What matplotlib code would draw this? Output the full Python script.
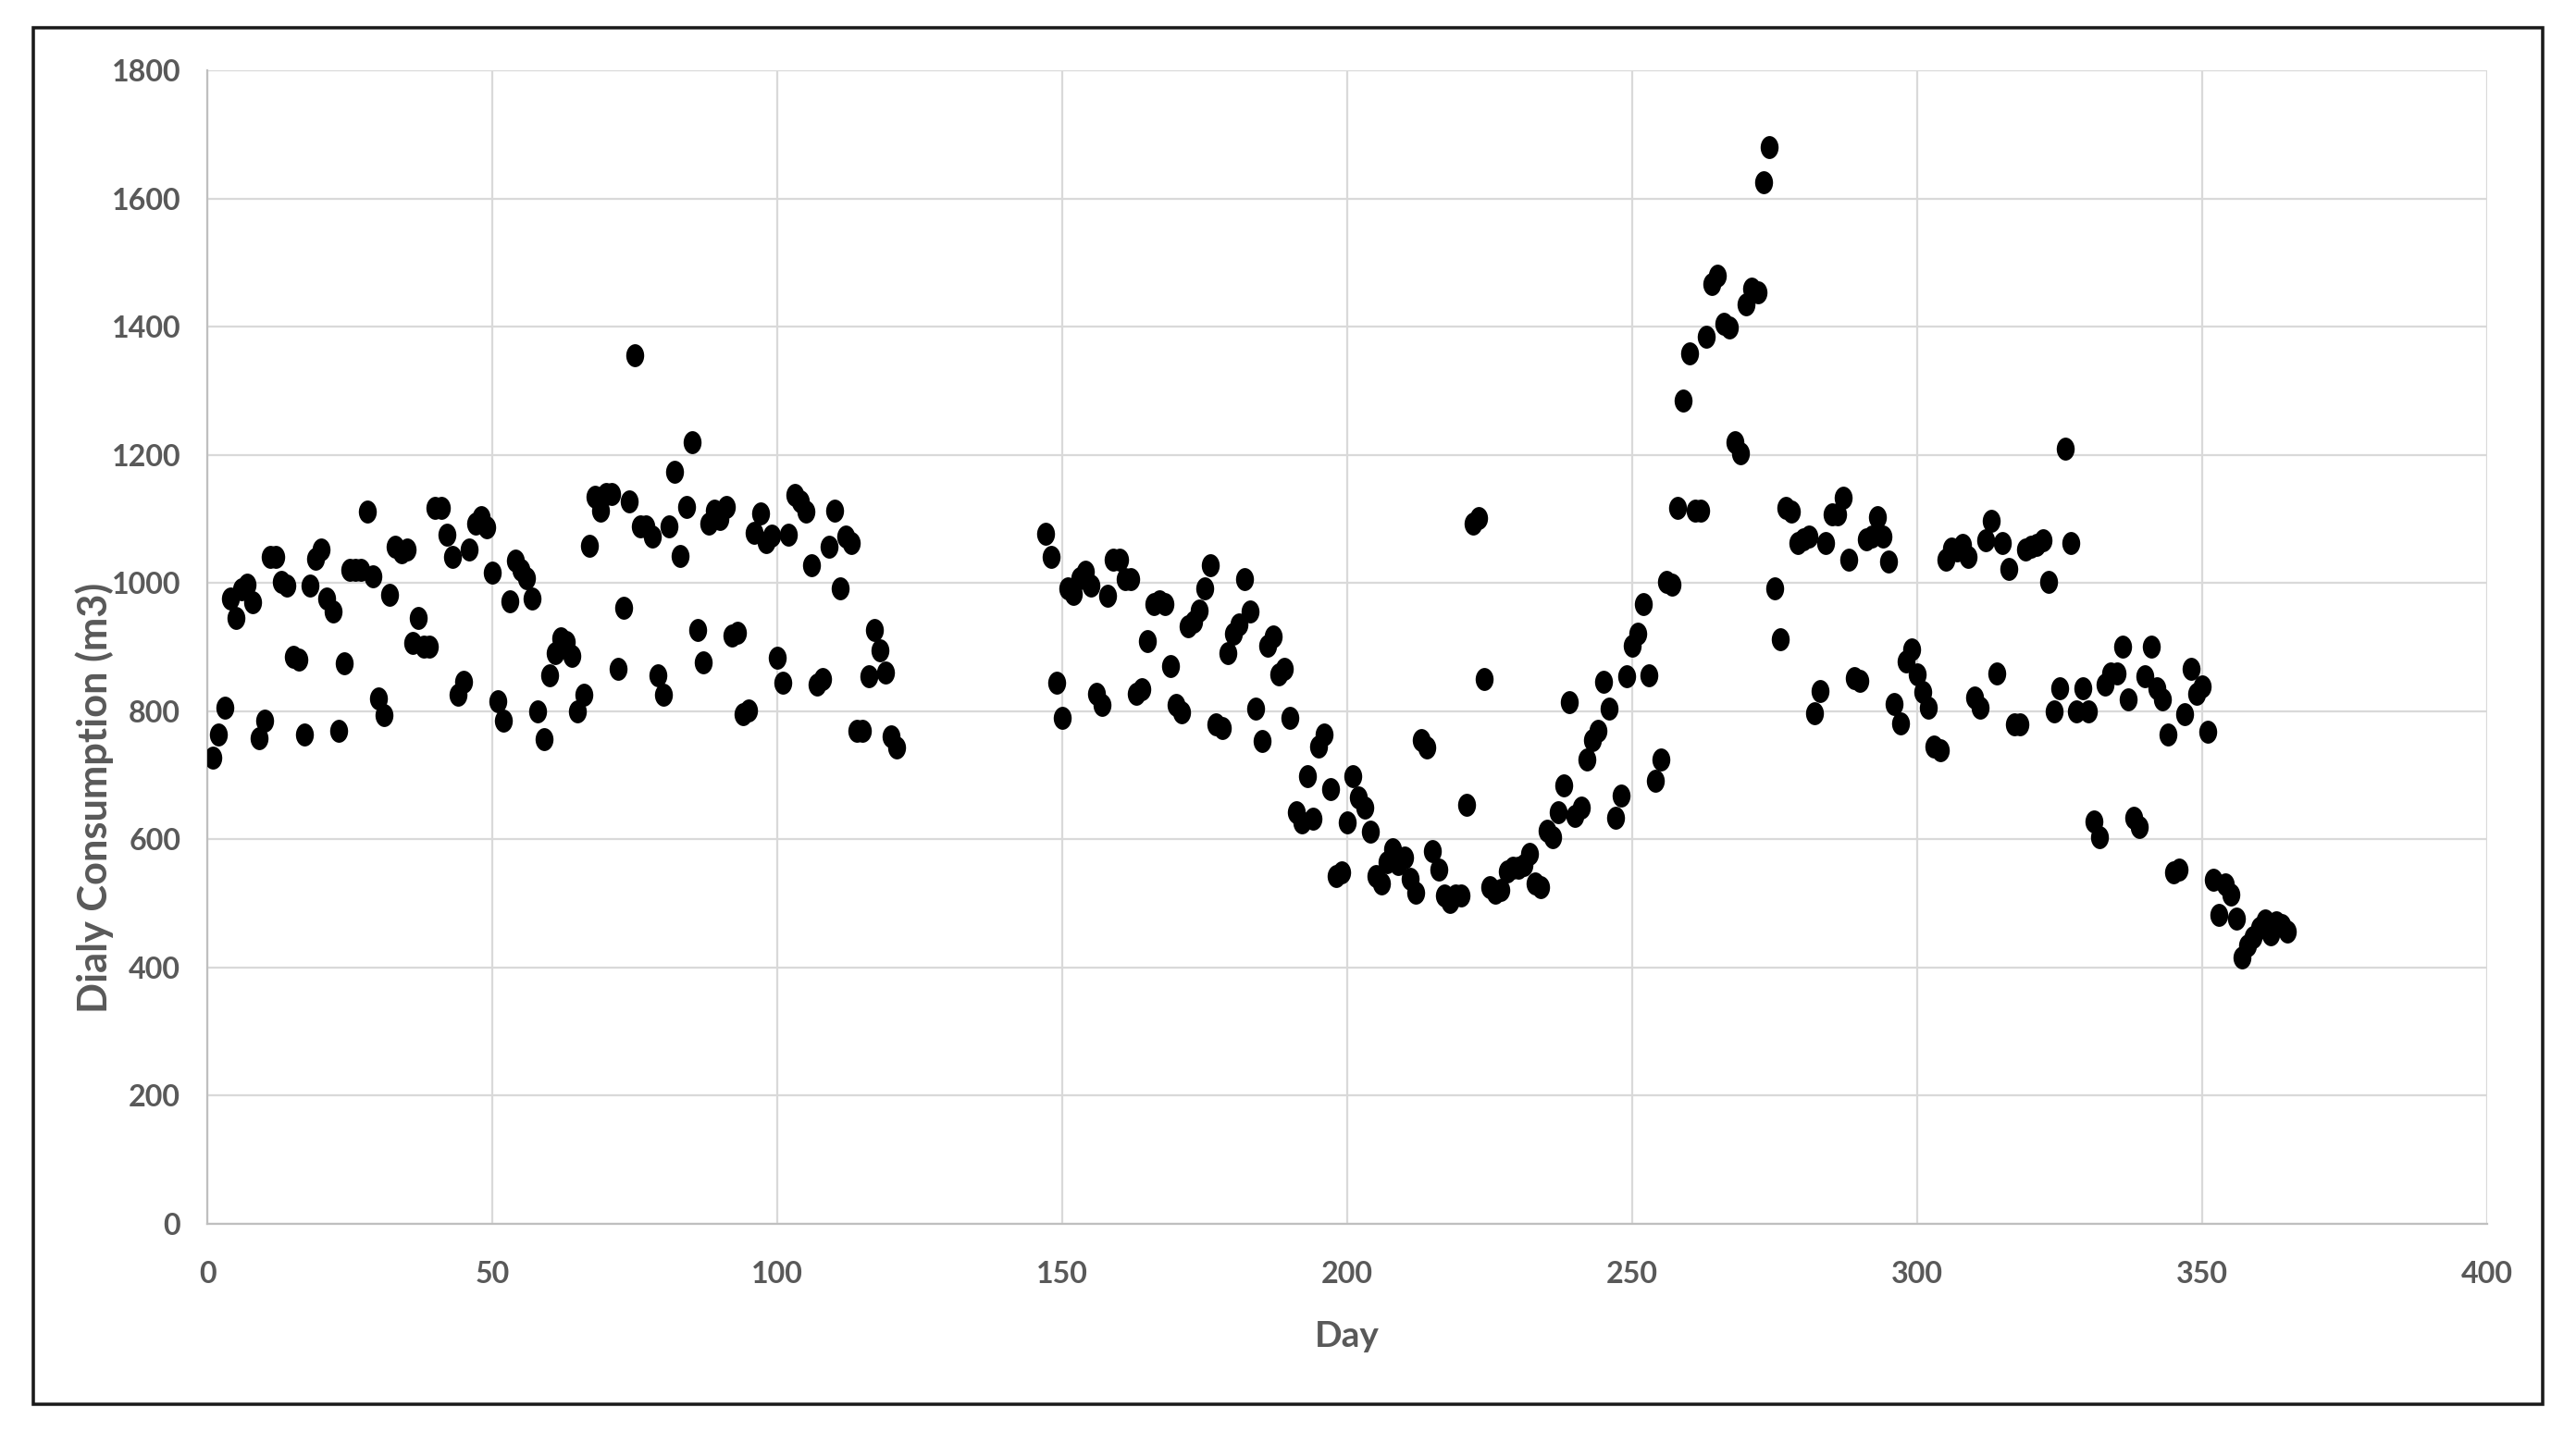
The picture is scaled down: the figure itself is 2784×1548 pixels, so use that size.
"""
Daily water consumption scatter (Excel-style chart).
"""
import numpy as np
import matplotlib
matplotlib.use("Agg")
import matplotlib.pyplot as plt
from matplotlib.path import Path
from matplotlib.transforms import Affine2D
from matplotlib.patches import Rectangle

# ---- data -----------------------------------------------------------
# first block: days 1-121
days_a = list(range(1, 122))
cons_a = [
    728, 764, 805, 976, 946, 990, 998, 970, 758, 785,
    1041, 1041, 1002, 996, 885, 880, 764, 996, 1038, 1052,
    976, 956, 769, 875, 1021, 1021, 1021, 1112, 1011, 820,
    794, 981, 1057, 1048, 1052, 906, 946, 901, 901, 1117,
    1117, 1076, 1041, 825, 846, 1052, 1093, 1103, 1087, 1016, 816,
    785, 971, 1035, 1020, 1008, 976, 800, 756, 856, 891,
    913, 908, 886, 800, 825, 1058, 1135, 1113, 1139, 1139,
    866, 962, 1128, 1355, 1088, 1088, 1072, 856, 825, 1088,
    1174, 1042, 1118, 1219, 926, 876, 1093, 1113, 1100, 1118,
    918, 923, 796, 801, 1078, 1108, 1064, 1074,
    884, 844, 1075, 1138, 1128, 1112, 1027, 842, 850, 1057,
    1113, 991, 1073, 1062, 769, 769, 855, 926, 895, 860,
    760, 743,
]

# second block: days 147-365
days_b = list(range(147, 366))
cons_b = [
    # 147-199
    1077, 1041, 845, 789, 991, 983, 1008, 1017, 996, 827,
    810, 980, 1036, 1036, 1006, 1006, 827, 834, 910, 967,
    971, 967, 870, 810, 798, 933, 940, 957, 991, 1027,
    779, 774, 890, 921, 935, 1006, 956, 804, 754, 902,
    916, 858, 866, 789, 642, 627, 698, 632, 745, 764,
    679, 543, 548,
    # 200-249
    627, 698, 666, 649, 612, 543, 531, 565, 584, 562,
    572, 538, 517, 755, 743, 582, 553, 512, 502, 512,
    512, 654, 1093, 1101, 850, 526, 517, 521, 550, 555,
    555, 560, 577, 531, 526, 613, 603, 642, 684, 814,
    637, 649, 724, 755, 769, 846, 804, 633, 668, 855,
    # 250-299
    902, 921, 967, 856, 691, 725, 1002, 998, 1117, 1284,
    1359, 1113, 1113, 1384, 1466, 1480, 1405, 1399, 1220, 1203,
    1435, 1460, 1454, 1626, 1680, 992, 912, 1117, 1112, 1063,
    1068, 1072, 797, 832, 1063, 1107, 1107, 1133, 1037, 851,
    847, 1068, 1072, 1103, 1072, 1033, 811, 781, 877, 896,
    # 300-351
    857, 830, 805, 745, 739, 1037, 1054, 1051, 1059, 1041,
    821, 805, 1067, 1097, 859, 1062, 1022, 780, 780, 1052,
    1057, 1060, 1067, 1001, 800, 835, 1209, 1062, 800, 835,
    800, 628, 603, 841, 859, 859, 900, 819, 634, 619,
    855, 900, 835, 819, 764, 548, 553, 795, 866, 827,
    839, 768,
    # 352-365
    537, 482, 529, 514, 476, 416, 435, 447, 462, 473,
    452, 471, 466, 456,
]

x_ticks = [0, 50, 100, 150, 200, 250, 300, 350, 400]
y_ticks = [0, 200, 400, 600, 800, 1000, 1200, 1400, 1600, 1800]

# ---- style ----------------------------------------------------------
TEXT = "#595959"
GRID = "#d9d9d9"
AXIS = "#bfbfbf"

plt.rcParams.update({
    "font.family": ["Lato", "DejaVu Sans"],
    "font.weight": "bold",
})

fig = plt.figure(figsize=(2784 / 160, 1548 / 160), dpi=160)
ax = fig.add_axes([0.0805, 0.1454, 0.8850, 0.8055])

# markers in the reference are slightly taller than wide
ellipse = Affine2D().scale(1.0, 1.28).transform_path(Path.unit_circle())

days = days_a + days_b
cons = cons_a + cons_b
ax.scatter(days, cons, marker=ellipse, s=125, color="black",
           linewidths=0, zorder=3)

ax.set_xlim(0, 400)
ax.set_ylim(0, 1800)
ax.set_xticks(x_ticks)
ax.set_yticks(y_ticks)
ax.set_xticklabels([str(t) for t in x_ticks])
ax.set_yticklabels([str(t) for t in y_ticks])
ax.tick_params(axis="both", length=0, labelsize=14.5, labelcolor=TEXT)
ax.tick_params(axis="x", pad=18)
ax.tick_params(axis="y", pad=13)

ax.grid(True, color=GRID, linewidth=1.0, zorder=0)
ax.set_axisbelow(True)
for side in ("top", "right"):
    ax.spines[side].set_visible(False)
for side in ("left", "bottom"):
    ax.spines[side].set_color(AXIS)
    ax.spines[side].set_linewidth(1.0)

ax.set_xlabel("Day", fontsize=17.5, color=TEXT, fontweight="bold", labelpad=16)
ax.set_ylabel("Dialy Consumption (m3)", fontsize=19.5, color=TEXT,
              fontweight="bold")
ax.yaxis.set_label_coords(-0.041, 0.369)

# outer chart frame
fig.patches.append(Rectangle((0.0128, 0.0194), 0.9744, 0.9612,
                             transform=fig.transFigure, fill=False,
                             edgecolor="#1a1a1a", linewidth=1.6))

fig.savefig("out.png", dpi=160)
